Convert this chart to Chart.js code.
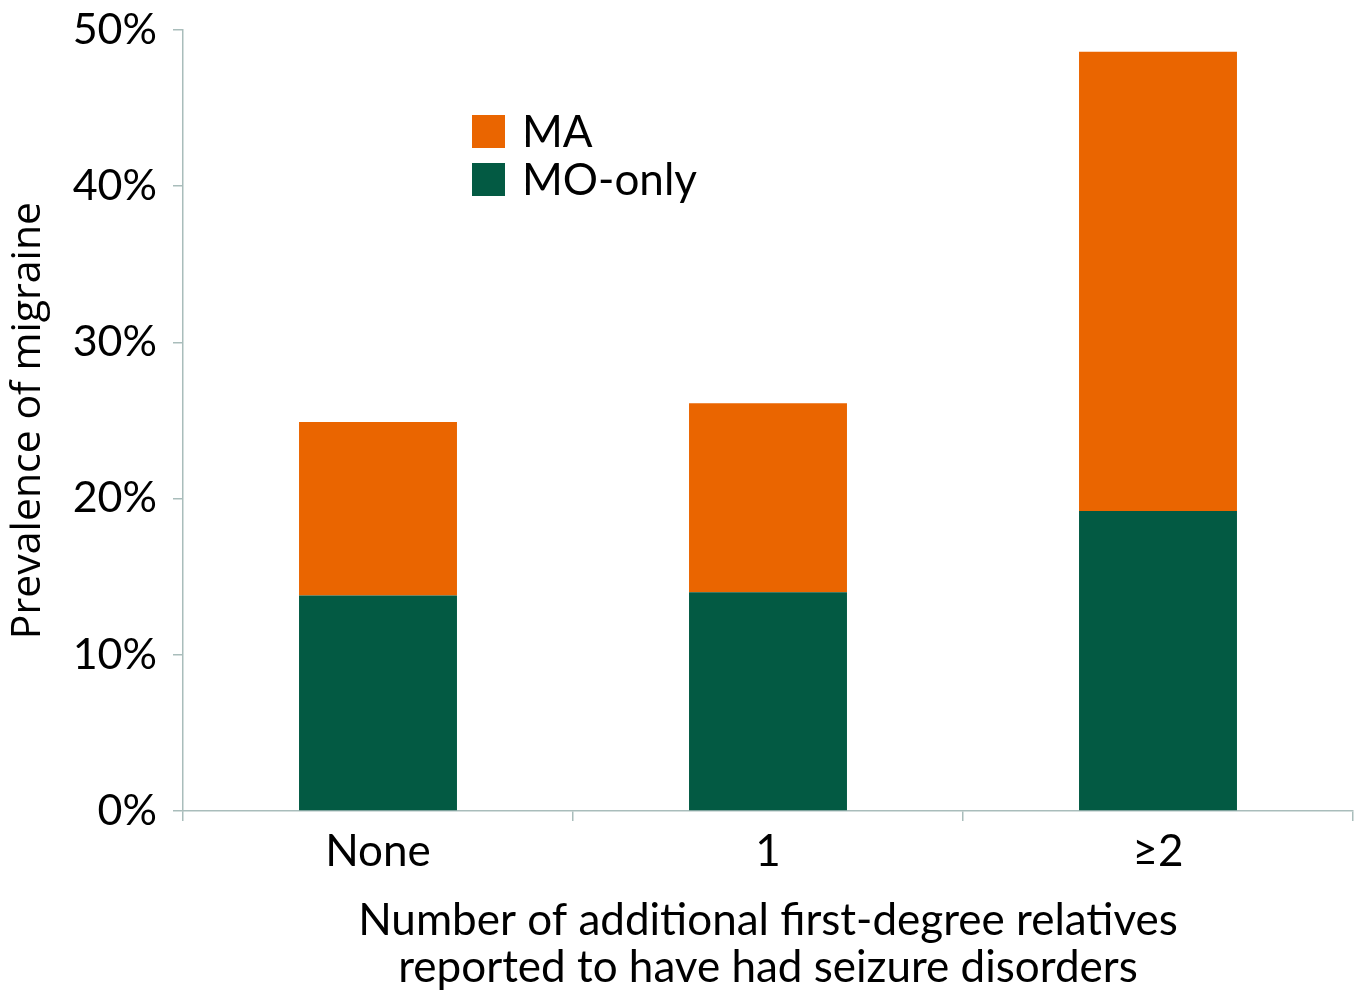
<!DOCTYPE html>
<html>
<head>
<meta charset="utf-8">
<script src="https://cdn.jsdelivr.net/npm/chart.js@4.4.1/dist/chart.umd.min.js"></script>
<style>
  html, body { margin: 0; padding: 0; background: #fff; }
  #wrap { width: 1362px; height: 992px; position: relative; }
</style>
</head>
<body>
<div id="wrap"><canvas id="c" width="1362" height="992"></canvas></div>
<script>
const categories = ['None', '1', '\u22652'];
const moOnly = [13.8, 14.0, 19.2];
const ma = [11.1, 12.1, 29.4];
const yTicks = [0, 10, 20, 30, 40, 50];
const seriesNames = ['MO-only', 'MA'];
const xTitle = ['Number of additional first-degree relatives', 'reported to have had seizure disorders'];
const yTitle = 'Prevalence of migraine';

const FONT = 'Lato, "Open Sans", sans-serif';
const AXIS = '#a9bdbb';

const legendPlugin = {
  id: 'insideLegend',
  afterDraw(chart) {
    const ctx = chart.ctx;
    const area = chart.chartArea;
    const items = [chart.data.datasets[1], chart.data.datasets[0]];
    ctx.save();
    ctx.font = '44px ' + FONT;
    ctx.textBaseline = 'middle';
    ctx.textAlign = 'left';
    items.forEach((ds, i) => {
      const x = area.left + 289;
      const y = area.top + 85 + i * 48;
      ctx.fillStyle = ds.backgroundColor;
      ctx.fillRect(x, y, 33, 33);
      ctx.fillStyle = '#000';
      ctx.fillText(ds.label, x + 50, y + 18);
    });
    ctx.restore();
  }
};

new Chart(document.getElementById('c'), {
  type: 'bar',
  data: {
    labels: categories,
    datasets: [
      { label: seriesNames[0], data: moOnly, backgroundColor: '#035a43', categoryPercentage: 1, barPercentage: 0.405 },
      { label: seriesNames[1], data: ma, backgroundColor: '#ea6500', categoryPercentage: 1, barPercentage: 0.405 }
    ]
  },
  options: {
    responsive: false,
    animation: false,
    layout: { padding: { top: 30, right: 9, left: 0, bottom: 0 } },
    plugins: { legend: { display: false }, tooltip: { enabled: false } },
    scales: {
      x: {
        stacked: true,
        grid: { display: true, drawOnChartArea: false, offset: true, color: AXIS, tickLength: 10, lineWidth: 1.5 },
        border: { color: AXIS, width: 1.5 },
        ticks: { color: '#000', font: { family: FONT, size: 44 }, padding: 4 },
        title: { display: true, text: xTitle, color: '#000', font: { family: FONT, size: 44, lineHeight: 1.08 }, padding: { top: 4, bottom: 0 } },
        afterFit(s) { s.height = 181; s.paddingLeft = 0; s.paddingRight = 0; }
      },
      y: {
        stacked: true,
        min: 0, max: 50,
        afterBuildTicks(s) { s.ticks = yTicks.map(v => ({ value: v })); },
        grid: { display: true, drawOnChartArea: false, color: AXIS, tickLength: 10, lineWidth: 1.5 },
        border: { color: AXIS, width: 1.5 },
        ticks: { color: '#000', font: { family: FONT, size: 43 }, padding: 16, callback: v => v + '%' },
        title: { display: true, text: yTitle, color: '#000', font: { family: '"Open Sans", sans-serif', size: 41 }, padding: { top: 4, bottom: 0 } },
        afterFit(s) { s.width = 183; s.paddingTop = 0; s.paddingBottom = 0; }
      }
    }
  },
  plugins: [legendPlugin]
});
</script>
</body>
</html>
